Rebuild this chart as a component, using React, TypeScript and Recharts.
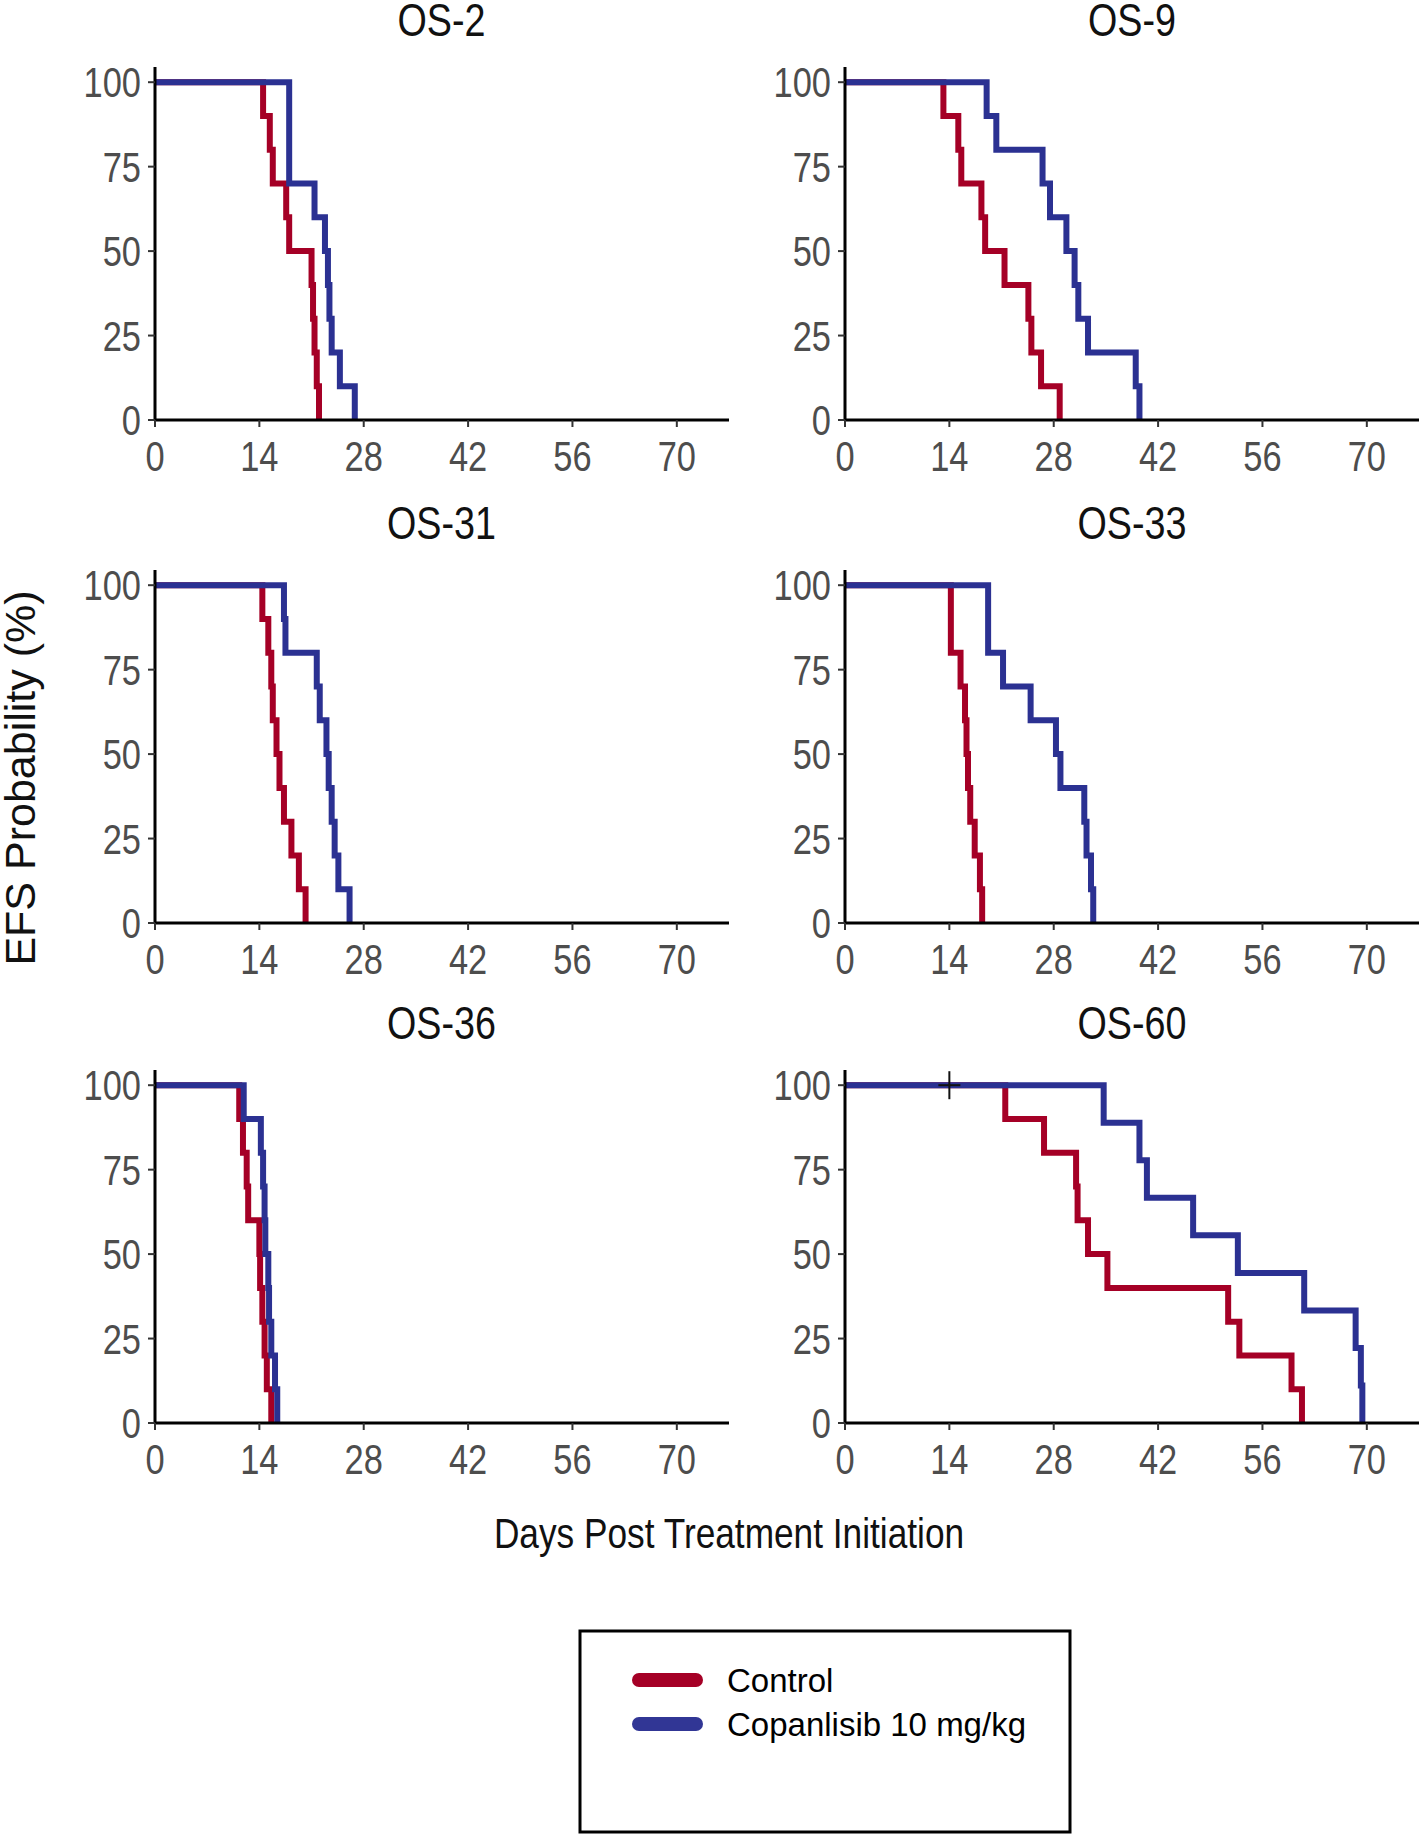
import React from 'react'
import { ComposedChart, Line, XAxis, YAxis, ReferenceDot } from 'recharts'

// step points of the Kaplan-Meier curves (day, EFS %)
const os2Control = [
  { day: 0, pct: 100 }, { day: 14.5, pct: 90 }, { day: 15.4, pct: 80 }, { day: 15.8, pct: 70 },
  { day: 17.6, pct: 60 }, { day: 18.0, pct: 50 }, { day: 21.0, pct: 40 }, { day: 21.2, pct: 30 },
  { day: 21.4, pct: 20 }, { day: 21.7, pct: 10 }, { day: 22.0, pct: 0 },
]
const os2Copan = [
  { day: 0, pct: 100 }, { day: 18.0, pct: 70 }, { day: 21.4, pct: 60 }, { day: 22.8, pct: 50 },
  { day: 23.2, pct: 40 }, { day: 23.4, pct: 30 }, { day: 23.7, pct: 20 }, { day: 24.8, pct: 10 },
  { day: 26.8, pct: 0 },
]
const os9Control = [
  { day: 0, pct: 100 }, { day: 13.2, pct: 90 }, { day: 15.2, pct: 80 }, { day: 15.6, pct: 70 },
  { day: 18.3, pct: 60 }, { day: 18.8, pct: 50 }, { day: 21.4, pct: 40 }, { day: 24.6, pct: 30 },
  { day: 25.0, pct: 20 }, { day: 26.3, pct: 10 }, { day: 28.8, pct: 0 },
]
const os9Copan = [
  { day: 0, pct: 100 }, { day: 19.0, pct: 90 }, { day: 20.3, pct: 80 }, { day: 26.5, pct: 70 },
  { day: 27.5, pct: 60 }, { day: 29.7, pct: 50 }, { day: 30.8, pct: 40 }, { day: 31.3, pct: 30 },
  { day: 32.6, pct: 20 }, { day: 39.0, pct: 10 }, { day: 39.5, pct: 0 },
]
const os31Control = [
  { day: 0, pct: 100 }, { day: 14.4, pct: 90 }, { day: 15.2, pct: 80 }, { day: 15.6, pct: 70 },
  { day: 15.8, pct: 60 }, { day: 16.3, pct: 50 }, { day: 16.7, pct: 40 }, { day: 17.3, pct: 30 },
  { day: 18.3, pct: 20 }, { day: 19.3, pct: 10 }, { day: 20.2, pct: 0 },
]
const os31Copan = [
  { day: 0, pct: 100 }, { day: 17.3, pct: 90 }, { day: 17.5, pct: 80 }, { day: 21.7, pct: 70 },
  { day: 22.1, pct: 60 }, { day: 23.0, pct: 50 }, { day: 23.3, pct: 40 }, { day: 23.7, pct: 30 },
  { day: 24.1, pct: 20 }, { day: 24.6, pct: 10 }, { day: 26.1, pct: 0 },
]
const os33Control = [
  { day: 0, pct: 100 }, { day: 14.2, pct: 80 }, { day: 15.5, pct: 70 }, { day: 16.1, pct: 60 },
  { day: 16.3, pct: 50 }, { day: 16.5, pct: 40 }, { day: 16.8, pct: 30 }, { day: 17.4, pct: 20 },
  { day: 18.1, pct: 10 }, { day: 18.4, pct: 0 },
]
const os33Copan = [
  { day: 0, pct: 100 }, { day: 19.2, pct: 80 }, { day: 21.2, pct: 70 }, { day: 24.9, pct: 60 },
  { day: 28.3, pct: 50 }, { day: 28.9, pct: 40 }, { day: 32.1, pct: 30 }, { day: 32.4, pct: 20 },
  { day: 33.0, pct: 10 }, { day: 33.3, pct: 0 },
]
const os36Control = [
  { day: 0, pct: 100 }, { day: 11.3, pct: 90 }, { day: 11.8, pct: 80 }, { day: 12.3, pct: 70 },
  { day: 12.5, pct: 60 }, { day: 14.0, pct: 50 }, { day: 14.1, pct: 40 }, { day: 14.4, pct: 30 },
  { day: 14.7, pct: 20 }, { day: 15.0, pct: 10 }, { day: 15.6, pct: 0 },
]
const os36Copan = [
  { day: 0, pct: 100 }, { day: 11.9, pct: 90 }, { day: 14.2, pct: 80 }, { day: 14.5, pct: 70 },
  { day: 14.7, pct: 60 }, { day: 14.8, pct: 50 }, { day: 15.2, pct: 40 }, { day: 15.3, pct: 30 },
  { day: 15.6, pct: 20 }, { day: 16.1, pct: 10 }, { day: 16.4, pct: 0 },
]
const os60Control = [
  { day: 0, pct: 100 }, { day: 21.5, pct: 90 }, { day: 26.7, pct: 80 }, { day: 31.0, pct: 70 },
  { day: 31.2, pct: 60 }, { day: 32.6, pct: 50 }, { day: 35.2, pct: 40 }, { day: 51.4, pct: 30 },
  { day: 52.9, pct: 20 }, { day: 59.9, pct: 10 }, { day: 61.3, pct: 0 },
]
const os60Copan = [
  { day: 0, pct: 100 }, { day: 34.7, pct: 88.9 }, { day: 39.5, pct: 77.8 }, { day: 40.5, pct: 66.7 },
  { day: 46.7, pct: 55.6 }, { day: 52.7, pct: 44.4 }, { day: 61.6, pct: 33.3 }, { day: 68.5, pct: 22.2 },
  { day: 69.2, pct: 11.1 }, { day: 69.4, pct: 0 },
]
const os60Censored = [{ day: 14, pct: 100 }]

const panelTitles = ['OS-2', 'OS-9', 'OS-31', 'OS-33', 'OS-36', 'OS-60']
const seriesNames = ['Control', 'Copanlisib 10 mg/kg']
const xTicks = [0, 14, 28, 42, 56, 70]
const yTicks = [0, 25, 50, 75, 100]

const RED = '#a50026'
const BLUE = '#2b3192'
const SANS = "'Liberation Sans', Arial, sans-serif"
const SQUEEZE = 0.82 // the figure is horizontally squashed, like Arial Narrow

const panels = [
  { title: panelTitles[0], control: os2Control, copan: os2Copan, censored: [] as { day: number; pct: number }[] },
  { title: panelTitles[1], control: os9Control, copan: os9Copan, censored: [] },
  { title: panelTitles[2], control: os31Control, copan: os31Copan, censored: [] },
  { title: panelTitles[3], control: os33Control, copan: os33Copan, censored: [] },
  { title: panelTitles[4], control: os36Control, copan: os36Copan, censored: [] },
  { title: panelTitles[5], control: os60Control, copan: os60Copan, censored: os60Censored },
]

const plotW = 574
const plotH = 353
const yAxisW = 140
const xAxisH = 70
const colLeft = [154.5, 845]
const rowBottom = [420, 923, 1423]

function NarrowText({ x, y, anchor, dy, size, fill, children }: any) {
  return (
    <text
      transform={`translate(${x},${y}) scale(${SQUEEZE},1)`}
      textAnchor={anchor}
      dy={dy}
      fontFamily={SANS}
      fontSize={size}
      fill={fill}
    >
      {children}
    </text>
  )
}

function XTick(props: any) {
  const { x, y, payload } = props
  return (
    <NarrowText x={x} y={y} anchor="middle" dy="0.72em" size={42} fill="#4d4d4d">
      {payload.value}
    </NarrowText>
  )
}

function YTick(props: any) {
  const { x, y, payload } = props
  return (
    <NarrowText x={x} y={y} anchor="end" dy="0.36em" size={42} fill="#4d4d4d">
      {payload.value}
    </NarrowText>
  )
}

function Cross(props: any) {
  const { cx, cy } = props
  return (
    <g stroke="#111" strokeWidth={2}>
      <line x1={cx - 11} y1={cy} x2={cx + 11} y2={cy} />
      <line x1={cx} y1={cy - 14} x2={cx} y2={cy + 14} />
    </g>
  )
}

function KmPanel({ panel, left, top }: any) {
  return (
    <div style={{ position: 'absolute', left, top }}>
      <ComposedChart
        width={yAxisW + plotW}
        height={plotH + xAxisH}
        margin={{ top: 0, right: 0, bottom: 0, left: 0 }}
      >
        <XAxis
          type="number"
          dataKey="day"
          domain={[0, 77]}
          ticks={xTicks}
          allowDataOverflow
          height={xAxisH}
          axisLine={{ stroke: '#000', strokeWidth: 3 }}
          tickLine={{ stroke: '#333', strokeWidth: 2 }}
          tickSize={7}
          tickMargin={14}
          tick={<XTick />}
        />
        <YAxis
          type="number"
          dataKey="pct"
          domain={[0, 104.5]}
          ticks={yTicks}
          allowDataOverflow
          width={yAxisW}
          axisLine={{ stroke: '#000', strokeWidth: 3 }}
          tickLine={{ stroke: '#333', strokeWidth: 2 }}
          tickSize={7}
          tickMargin={7}
          tick={<YTick />}
        />
        <Line
          data={panel.control}
          dataKey="pct"
          type="stepAfter"
          stroke={RED}
          strokeWidth={6}
          dot={false}
          isAnimationActive={false}
        />
        <Line
          data={panel.copan}
          dataKey="pct"
          type="stepAfter"
          stroke={BLUE}
          strokeWidth={6}
          dot={false}
          isAnimationActive={false}
        />
        {panel.censored.map((c: any, i: number) => (
          <ReferenceDot key={i} x={c.day} y={c.pct} shape={<Cross />} />
        ))}
      </ComposedChart>
    </div>
  )
}

export default function App() {
  return (
    <div style={{ position: 'absolute', left: 0, top: 0, width: 1420, height: 1835, background: '#fff' }}>
      {panels.map((p, i) => {
        const col = i % 2
        const row = Math.floor(i / 2)
        return (
          <KmPanel
            key={p.title}
            panel={p}
            left={colLeft[col] - yAxisW}
            top={rowBottom[row] - plotH}
          />
        )
      })}
      <svg
        width={1420}
        height={1835}
        style={{ position: 'absolute', left: 0, top: 0, pointerEvents: 'none' }}
      >
        {panels.map((p, i) => {
          const col = i % 2
          const row = Math.floor(i / 2)
          const y100 = rowBottom[row] - (plotH * 100) / 104.5
          return (
            <NarrowText key={p.title} x={colLeft[col] + 287} y={y100 - 46} anchor="middle" size={46} fill="#111">
              {p.title}
            </NarrowText>
          )
        })}
        <text
          transform="translate(35,778) rotate(-90)"
          textAnchor="middle"
          fontFamily={SANS}
          fontSize={43}
          fill="#111"
        >
          EFS Probability (%)
        </text>
        <NarrowText x={729} y={1548} anchor="middle" size={43} fill="#111">
          Days Post Treatment Initiation
        </NarrowText>
        <rect x={580} y={1631} width={490} height={201} fill="none" stroke="#000" strokeWidth={3} />
        {seriesNames.map((name, i) => (
          <g key={name}>
            <line
              x1={639}
              x2={696}
              y1={1680 + i * 44}
              y2={1680 + i * 44}
              stroke={i === 0 ? RED : '#313695'}
              strokeWidth={14}
              strokeLinecap="round"
            />
            <text x={727} y={1692 + i * 44} fontFamily={SANS} fontSize={33} fill="#000">
              {name}
            </text>
          </g>
        ))}
      </svg>
    </div>
  )
}
